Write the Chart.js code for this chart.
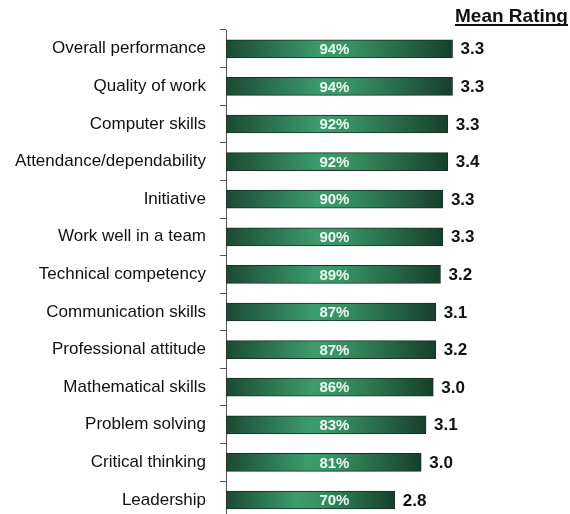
<!DOCTYPE html>
<html>
<head>
<meta charset="utf-8">
<script src="https://cdn.jsdelivr.net/npm/chart.js@4"></script>
<style>
  html, body { margin: 0; padding: 0; background: #fff; overflow: hidden; }
  canvas { display: block; }
</style>
</head>
<body>
<canvas id="myChart" width="570" height="543"></canvas>
<script>
// Chart data
var categories = [
  "Overall performance", "Quality of work", "Computer skills",
  "Attendance/dependability", "Initiative", "Work well in a team",
  "Technical competency", "Communication skills", "Professional attitude",
  "Mathematical skills", "Problem solving", "Critical thinking", "Leadership"
];
var percentValues = [94, 94, 92, 92, 90, 90, 89, 87, 87, 86, 83, 81, 70];
var meanRatings = [3.3, 3.3, 3.3, 3.4, 3.3, 3.3, 3.2, 3.1, 3.2, 3.0, 3.1, 3.0, 2.8];
var headerText = "Mean Rating";

// position (in % units) where the white bar labels sit
var LABEL_POS = 45;

// Green gradient across each bar, dark at both ends
function barGradient(context) {
  var chart = context.chart;
  if (!chart.chartArea || !chart.scales.x) return "#2a7a55";
  var xs = chart.scales.x;
  var x0 = xs.getPixelForValue(0);
  var x1 = xs.getPixelForValue(context.raw);
  var g = chart.ctx.createLinearGradient(x0, 0, x1, 0);
  g.addColorStop(0, "#1b4a34");
  g.addColorStop(0.42, "#3c9c6d");
  g.addColorStop(0.55, "#379263");
  g.addColorStop(1, "#163f2c");
  return g;
}

// Draw the labels in and next to the bars, plus the header
var labelPlugin = {
  id: "barLabels",
  afterDatasetsDraw: function (chart) {
    var ctx = chart.ctx;
    var meta = chart.getDatasetMeta(0);
    var xs = chart.scales.x;
    ctx.save();
    meta.data.forEach(function (bar, i) {
      // percent inside bar
      ctx.font = "bold 15px 'Liberation Sans', Arial, sans-serif";
      ctx.fillStyle = "#eef7f1";
      ctx.textAlign = "center";
      ctx.textBaseline = "middle";
      ctx.fillText(percentValues[i] + "%", xs.getPixelForValue(LABEL_POS), bar.y + 1);
      // mean rating to the right
      ctx.font = "bold 17px 'Liberation Sans', Arial, sans-serif";
      ctx.fillStyle = "#111";
      ctx.textAlign = "left";
      ctx.fillText(meanRatings[i].toFixed(1), bar.x + 8, bar.y + 1);
    });
    // header
    ctx.font = "bold 19px 'Liberation Sans', Arial, sans-serif";
    ctx.fillStyle = "#111";
    ctx.textAlign = "left";
    ctx.textBaseline = "alphabetic";
    var hx = 455;
    ctx.fillText(headerText, hx, 22);
    var w = ctx.measureText(headerText).width;
    ctx.fillRect(hx, 24, w, 2);
    ctx.restore();
  }
};

var ctx = document.getElementById("myChart").getContext("2d");
var myChart = new Chart(ctx, {
  type: "bar",
  data: {
    labels: categories,
    datasets: [{
      data: percentValues,
      backgroundColor: barGradient,
      borderColor: "#1e2e25",
      borderWidth: 1,
      borderSkipped: false,
      barThickness: 18
    }]
  },
  options: {
    indexAxis: "y",
    responsive: false,
    animation: false,
    layout: { padding: { top: 30, right: 103, bottom: 0, left: 0 } },
    plugins: {
      legend: { display: false },
      tooltip: { enabled: false }
    },
    scales: {
      x: {
        display: false,
        min: 0,
        max: 100
      },
      y: {
        afterFit: function (scale) { scale.width = 226; },
        border: { display: true, color: "#555", width: 1 },
        grid: {
          display: true,
          drawOnChartArea: false,
          drawTicks: true,
          tickLength: 6,
          color: "#555",
          offset: true
        },
        ticks: {
          padding: 14,
          color: "#111",
          font: { family: "'Liberation Sans', Arial, sans-serif", size: 17 }
        }
      }
    }
  },
  plugins: [labelPlugin]
});
</script>
</body>
</html>
